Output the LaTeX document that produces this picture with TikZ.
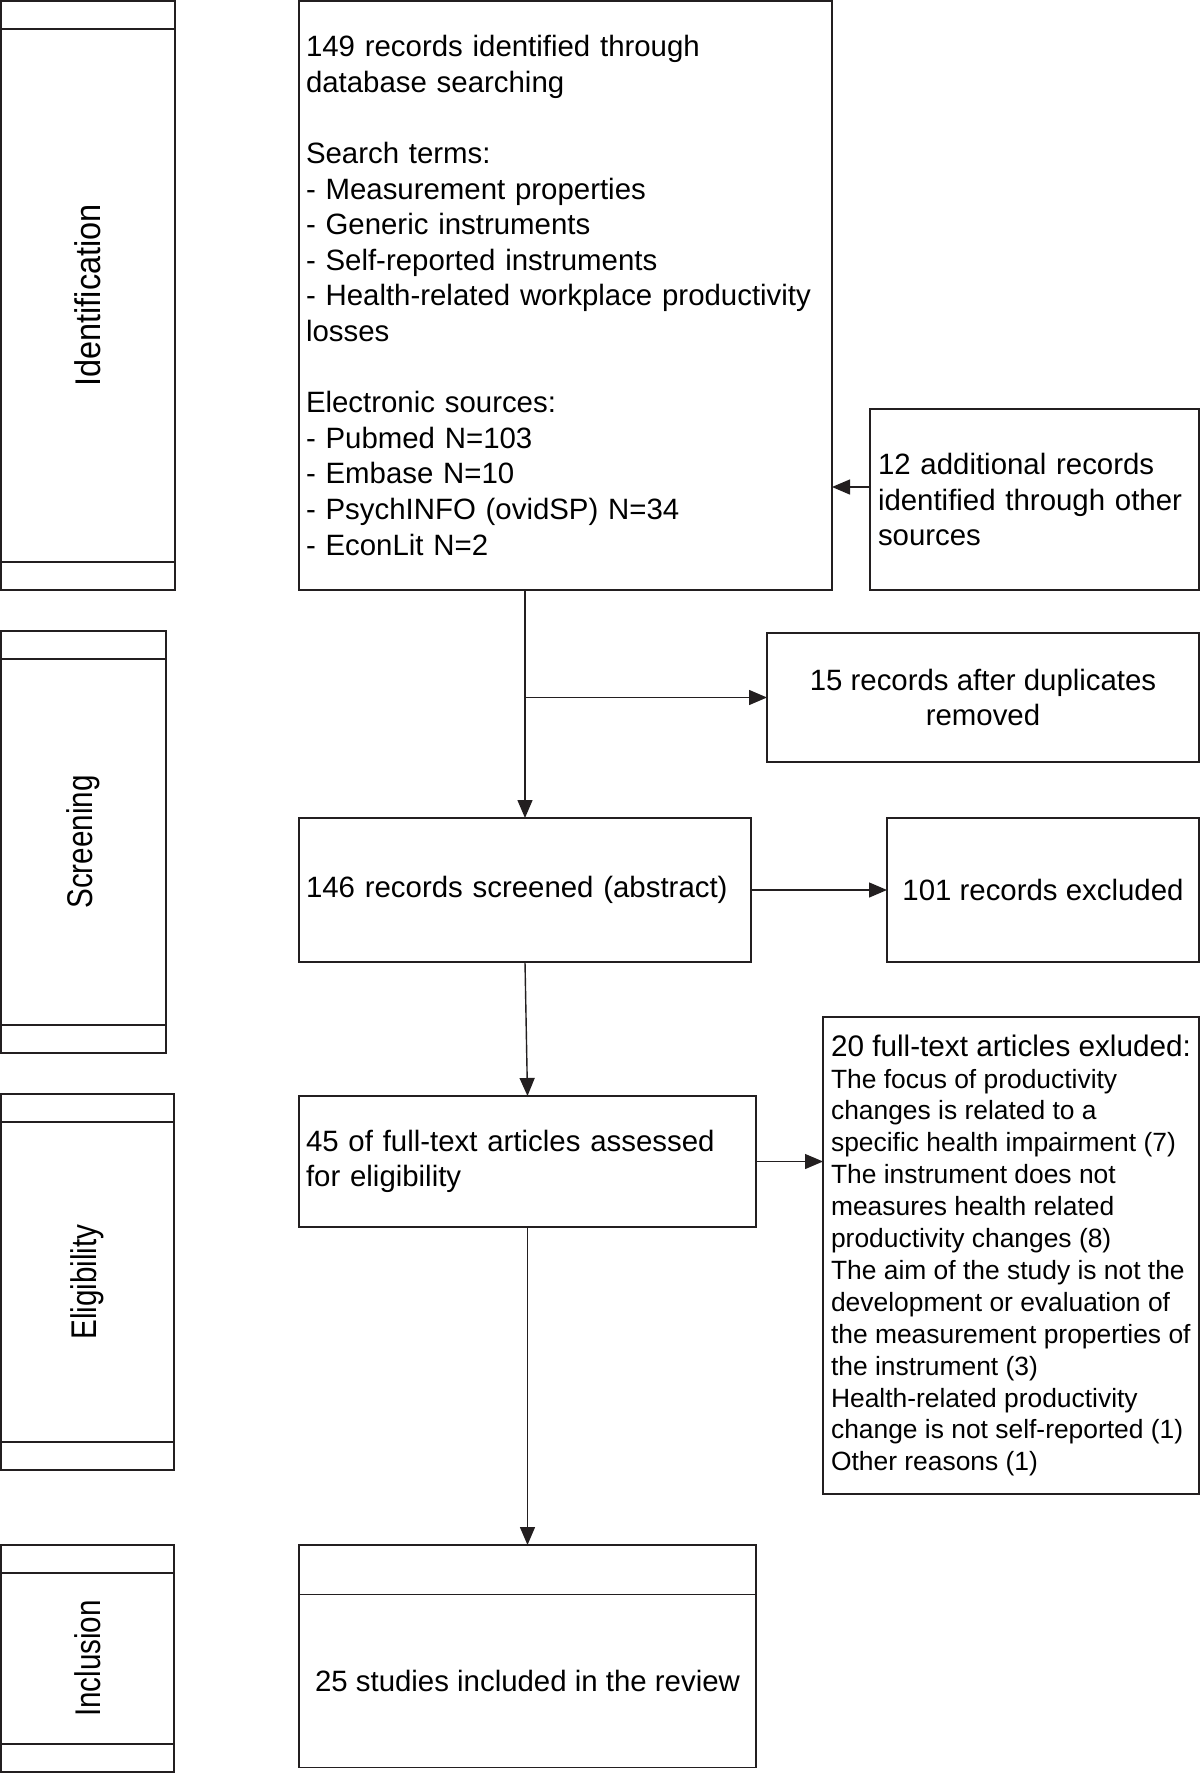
\documentclass[tikz,border=0pt]{standalone}
\usepackage{fontspec}
\setmainfont{Liberation Sans}
\newfontfamily\sidefont[FakeStretch=0.83]{Liberation Sans}
\newfontfamily\sidefontwide[FakeStretch=0.91]{Liberation Sans}
\usetikzlibrary{arrows.meta,positioning}
\definecolor{ink}{HTML}{231F20}

\begin{document}
\begin{tikzpicture}[x=1pt,y=-1pt]
\tikzset{box/.style={draw=ink, line width=1.4pt, rectangle, outer sep=0pt, inner sep=0pt, font=\fontsize{29.4}{35.6}\selectfont}}
\tikzset{sidebox/.style={box, font=\sidefont\fontsize{35.7}{40}\selectfont}}
\tikzset{arr/.style={draw=ink, line width=1.4pt, -{Triangle[length=18pt,width=15pt]}}}

\useasboundingbox (0,0) rectangle (1200,1773);

% phase column
\node[sidebox, minimum width=174pt, minimum height=589pt] (idside) at (88,295.4) {\rotatebox{90}{\sidefontwide Identification}};
\node[sidebox, minimum width=165pt, minimum height=422pt] (scrside) at (83.4,842) {\rotatebox{90}{Screening}};
\node[sidebox, minimum width=173pt, minimum height=376pt] (eliside) at (87.4,1282) {\rotatebox{90}{Eligibility}};
\node[sidebox, minimum width=173pt, minimum height=227pt] (incside) at (87.4,1658.5) {\rotatebox{90}{Inclusion}};
\foreach \s in {idside,scrside,eliside,incside}{
  \draw[ink, line width=1.4pt] ([yshift=-28pt]\s.north west) -- ([yshift=-28pt]\s.north east);
  \draw[ink, line width=1.4pt] ([yshift=28pt]\s.south west) -- ([yshift=28pt]\s.south east);
}

% flow boxes
\node[box, minimum width=533pt, minimum height=589pt, text width=519pt, align=left] (search) at (565.5,295.4) {149 records identified through\\ database searching\\[35.6pt] Search terms:\\ - Measurement properties\\ - Generic instruments\\ - Self-reported instruments\\ - Health-related workplace productivity\\ losses\\[35.6pt] Electronic sources:\\ - Pubmed N=103\\ - Embase N=10\\ - PsychINFO (ovidSP) N=34\\ - EconLit N=2};
\node[box, minimum width=329pt, minimum height=181pt, text width=313pt, align=left] (other) at (1034.5,499.5) {12 additional records\\ identified through other\\ sources};
\node[box, minimum width=432pt, minimum height=129pt, align=center] (dup) at (983,697.5) {15 records after duplicates\\ removed};
\node[box, minimum width=452pt, minimum height=144pt, text width=438pt, align=left] (screened) at (525,890) {146 records screened (abstract)};
\node[box, minimum width=312pt, minimum height=144pt, align=center] (excluded) at (1043,890) {101 records excluded};
\node[box, minimum width=457pt, minimum height=131pt, text width=443pt, align=left] (assessed) at (527.5,1161.5) {45 of full-text articles assessed\\ for eligibility};
\node[box, minimum width=376pt, minimum height=477pt, align=left, font=\fontsize{26.4}{31.9}\selectfont] (ftexcl) at (1011,1255.5) {{\fontsize{29.7}{31.9}\selectfont 20 full-text articles exluded:}\\ The focus of productivity\\ changes is related to a\\ specific health impairment (7)\\ The instrument does not\\ measures health related\\ productivity changes (8)\\ The aim of the study is not the\\ development or evaluation of\\ the measurement properties of\\ the instrument (3)\\ Health-related productivity\\ change is not self-reported (1)\\ Other reasons (1)};
\node[box, minimum width=457pt, minimum height=49.6pt] (incltop) at (527.5,1569.8) {};
\node[box, minimum width=457pt, minimum height=172.9pt, below=0pt of incltop] (included) {25 studies included in the review};

% arrows
\coordinate (otherin) at ([yshift=12.5pt]other.west);
\draw[arr] (otherin) -- (otherin -| search.east);
\draw[arr] (search.south -| screened.north) -- (screened.north);
\draw[arr] (screened.north |- dup.west) -- (dup.west);
\draw[arr] (screened.east) -- (excluded.west);
\draw[arr] (screened.south) -- (assessed.north);
\draw[arr] (assessed.east) -- (assessed.east -| ftexcl.west);
\draw[arr] (assessed.south) -- (incltop.north);

\end{tikzpicture}
\end{document}
